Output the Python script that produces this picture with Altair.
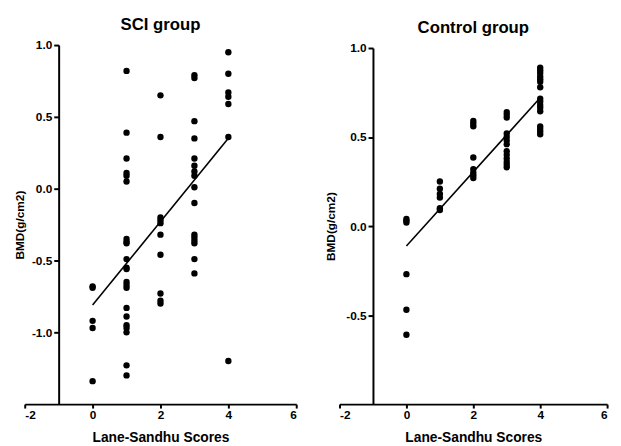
import altair as alt
import pandas as pd

# ---- SCI group: BMD values by Lane-Sandhu score ----
sci_score0 = [-0.68, -0.69, -0.92, -0.97, -1.34]
sci_score1 = [0.82, 0.39, 0.21, 0.11, 0.09, 0.05, -0.35, -0.37, -0.38, -0.49, -0.55,
              -0.56, -0.65, -0.67, -0.69, -0.83, -0.89, -0.95, -0.97, -1.00, -1.23, -1.30]
sci_score2 = [0.65, 0.36, -0.20, -0.22, -0.24, -0.32, -0.46, -0.73, -0.78, -0.80]
sci_score3 = [0.79, 0.77, 0.47, 0.35, 0.21, 0.16, 0.12, 0.09, 0.01, -0.10, -0.32,
              -0.34, -0.36, -0.38, -0.49, -0.59]
sci_score4 = [0.95, 0.80, 0.67, 0.64, 0.59, 0.36, -1.20]

# ---- Control group ----
ctl_score0 = [0.04, 0.03, 0.02, -0.27, -0.47, -0.61]
ctl_score1 = [0.25, 0.21, 0.18, 0.16, 0.10, 0.09]
ctl_score2 = [0.59, 0.575, 0.56, 0.385, 0.32, 0.30, 0.285, 0.27]
ctl_score3 = [0.64, 0.625, 0.61, 0.52, 0.50, 0.48, 0.46, 0.42, 0.40, 0.38, 0.36, 0.345, 0.33]
ctl_score4 = [0.89, 0.875, 0.86, 0.84, 0.825, 0.81, 0.78, 0.715, 0.70, 0.68, 0.665,
              0.645, 0.56, 0.545, 0.53, 0.515]

x_ticks = [-2, 0, 2, 4, 6]
sci_y_ticks = [-1.0, -0.5, 0.0, 0.5, 1.0]
ctl_y_ticks = [-0.5, 0.0, 0.5, 1.0]


def to_df(groups):
    rows = []
    for score, vals in enumerate(groups):
        for v in vals:
            rows.append({"score": score, "bmd": v})
    return pd.DataFrame(rows)


sci_df = to_df([sci_score0, sci_score1, sci_score2, sci_score3, sci_score4])
ctl_df = to_df([ctl_score0, ctl_score1, ctl_score2, ctl_score3, ctl_score4])

FONT = "Liberation Sans"
Y_LABEL = "datum.value < 0 ? '-' + format(-datum.value, '.1f') : format(datum.value, '.1f')"
X_LABEL = "datum.value < 0 ? '-' + format(-datum.value, 'd') : format(datum.value, 'd')"


def panel(df, title, ydom, yticks, w, h, yrange, yoff, ytpad):
    x = alt.X(
        "score:Q",
        scale=alt.Scale(domain=[-2, 6], nice=False, zero=False),
        axis=alt.Axis(values=x_ticks, title="Lane-Sandhu Scores", labelExpr=X_LABEL,
                      tickSize=4, labelPadding=2, titlePadding=10, titleFontSize=14),
    )
    y = alt.Y(
        "bmd:Q",
        scale=alt.Scale(domain=ydom, nice=False, zero=False, range=yrange),
        axis=alt.Axis(values=yticks, title="BMD(g/cm2)", labelExpr=Y_LABEL, offset=yoff,
                      tickSize=5, labelPadding=2, titlePadding=ytpad, titleFontSize=12),
    )
    base = alt.Chart(df)
    pts = base.mark_circle(size=42, color="black", opacity=1).encode(x=x, y=y)
    reg = base.transform_regression("score", "bmd").mark_line(
        color="black", strokeWidth=1.6
    ).encode(x=x, y=y)
    return alt.layer(pts, reg).properties(
        width=w, height=h,
        title=alt.TitleParams(title, fontSize=17, font=FONT, fontWeight="bold",
                              color="black", offset=5),
    )


left = panel(sci_df, "SCI group", [-1.5, 1.0], sci_y_ticks, 276, 365, [365, 0], -34.5, 5)
right = panel(ctl_df, "Control group", [-1.0, 1.0], ctl_y_ticks, 272, 365, [365, 3], -34, 8)

chart = (
    alt.hconcat(left, right, spacing=44, bounds="flush")
    .properties(padding={"left": 5, "top": 5, "right": 5, "bottom": 5})
    .configure_view(strokeWidth=0)
    .configure_axis(
        grid=False,
        domainColor="black", domainWidth=2,
        tickColor="black", tickWidth=2,
        labelFont=FONT, labelFontSize=12, labelFontWeight="bold", labelColor="black",
        titleFont=FONT, titleFontWeight="bold", titleColor="black",
    )
)

chart.save("out.html", embed_options={"renderer": "svg", "actions": False})
